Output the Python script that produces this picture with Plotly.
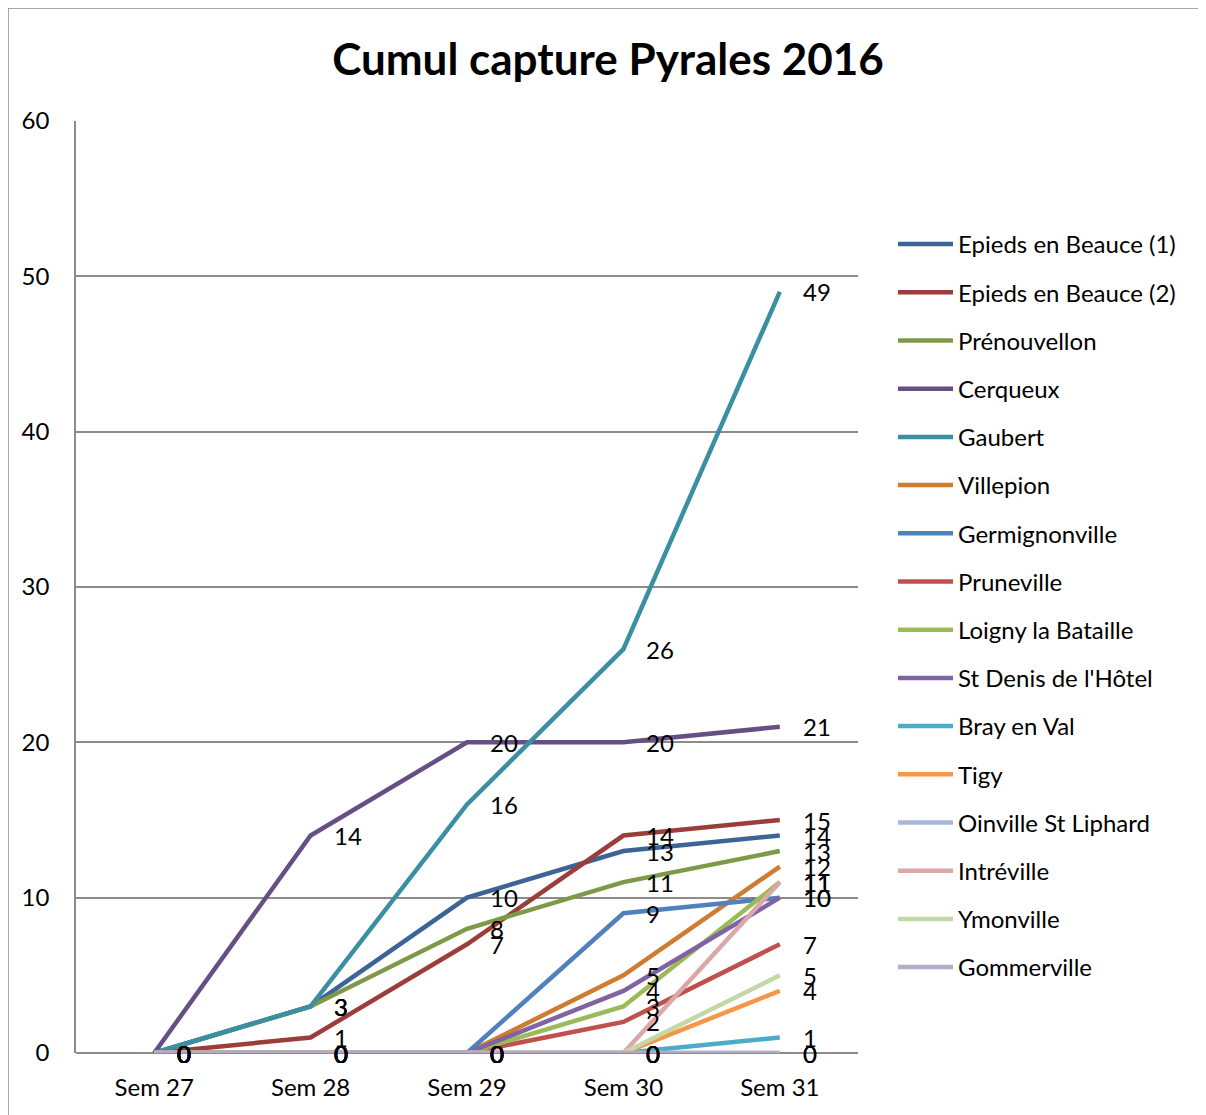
import plotly.graph_objects as go

weeks = ["Sem 27", "Sem 28", "Sem 29", "Sem 30", "Sem 31"]

epieds1 = [0, 3, 10, 13, 14]
epieds2 = [0, 1, 7, 14, 15]
prenouvellon = [0, 3, 8, 11, 13]
cerqueux = [0, 14, 20, 20, 21]
gaubert = [0, 3, 16, 26, 49]
villepion = [0, 0, 0, 5, 12]
germignonville = [0, 0, 0, 9, 10]
pruneville = [0, 0, 0, 2, 7]
loigny = [0, 0, 0, 3, 11]
st_denis = [0, 0, 0, 4, 10]
bray = [0, 0, 0, 0, 1]
tigy = [0, 0, 0, 0, 4]
oinville = [0, 0, 0, 0, 0]
intreville = [0, 0, 0, 0, 11]
ymonville = [0, 0, 0, 0, 5]
gommerville = [0, 0, 0, 0, 0]

series = [
    ("Epieds en Beauce (1)", epieds1, "#3C6496"),
    ("Epieds en Beauce (2)", epieds2, "#9B3D3A"),
    ("Prénouvellon", prenouvellon, "#7E9A48"),
    ("Cerqueux", cerqueux, "#654F84"),
    ("Gaubert", gaubert, "#3A8FA3"),
    ("Villepion", villepion, "#CF7C33"),
    ("Germignonville", germignonville, "#4F81BD"),
    ("Pruneville", pruneville, "#C0504D"),
    ("Loigny la Bataille", loigny, "#9BBB59"),
    ("St Denis de l'Hôtel", st_denis, "#8064A2"),
    ("Bray en Val", bray, "#4BACC6"),
    ("Tigy", tigy, "#F79646"),
    ("Oinville St Liphard", oinville, "#A7B9D9"),
    ("Intréville", intreville, "#D9A8A7"),
    ("Ymonville", ymonville, "#C4D7A6"),
    ("Gommerville", gommerville, "#B7AAC8"),
]

FONT = "Lato"
OFF = 8  # page body margin offset
fig = go.Figure()
annotations = []
for i, (name, vals, col) in enumerate(series):
    fig.add_trace(go.Scatter(
        x=weeks, y=vals, name=name, mode="lines",
        line=dict(color=col, width=4.5),
        legendgroup="g%d" % i,
    ))
    for w, v in zip(weeks, vals):
        annotations.append(dict(
            x=w, y=v, xref="x", yref="y", text=str(v), showarrow=False,
            xanchor="left", yanchor="middle", xshift=21,
            font=dict(family=FONT, size=24, color="black"),
        ))

W, H = 1206 - OFF, 1115 - OFF
L, R, T, B = 76 - OFF, 1206 - 858, 121 - OFF, 1115 - 1053
pw = W - L - R
ph = H - T - B

def px_x(p):
    return (p - OFF - L) / pw

def px_y(p):
    return (H + OFF - B - p) / ph

fig.update_layout(
    width=W, height=H,
    margin=dict(l=L, r=R, t=T, b=B, pad=0, autoexpand=False),
    paper_bgcolor="white", plot_bgcolor="white",
    font=dict(family=FONT, size=21, color="black"),
    title=dict(text="<b>Cumul capture Pyrales 2016</b>", x=(608 - OFF) / W, xanchor="center",
               y=1 - (60 - OFF) / H, yanchor="middle", xref="container", yref="container",
               font=dict(family=FONT, size=44, color="black")),
    xaxis=dict(type="category", range=[-0.5, 4.5], showgrid=False, showline=False,
               zeroline=False, ticks="", tickfont=dict(family=FONT, size=24),
               ticklabelstandoff=18, fixedrange=True, automargin=False),
    yaxis=dict(range=[0, 60], dtick=10, showgrid=True, gridcolor="#8C8C8C", gridwidth=1.5,
               showline=True, linecolor="#8C8C8C", linewidth=1.5, zeroline=True,
               zerolinecolor="#8C8C8C", zerolinewidth=1.5, automargin=False,
               ticks="", tickfont=dict(family=FONT, size=24), ticklabelstandoff=20),
    legend=dict(x=px_x(893), y=px_y(222), xanchor="left", yanchor="top",
                font=dict(family=FONT, size=24), tracegroupgap=14,
                itemwidth=55, bgcolor="rgba(0,0,0,0)"),
    annotations=annotations,
    shapes=[dict(type="rect", xref="paper", yref="paper",
                 x0=px_x(8), x1=px_x(1260), y0=px_y(1130), y1=px_y(8),
                 line=dict(color="#8C8C8C", width=1.5), layer="below")],
    showlegend=True,
)

fig.write_html("out.html")
